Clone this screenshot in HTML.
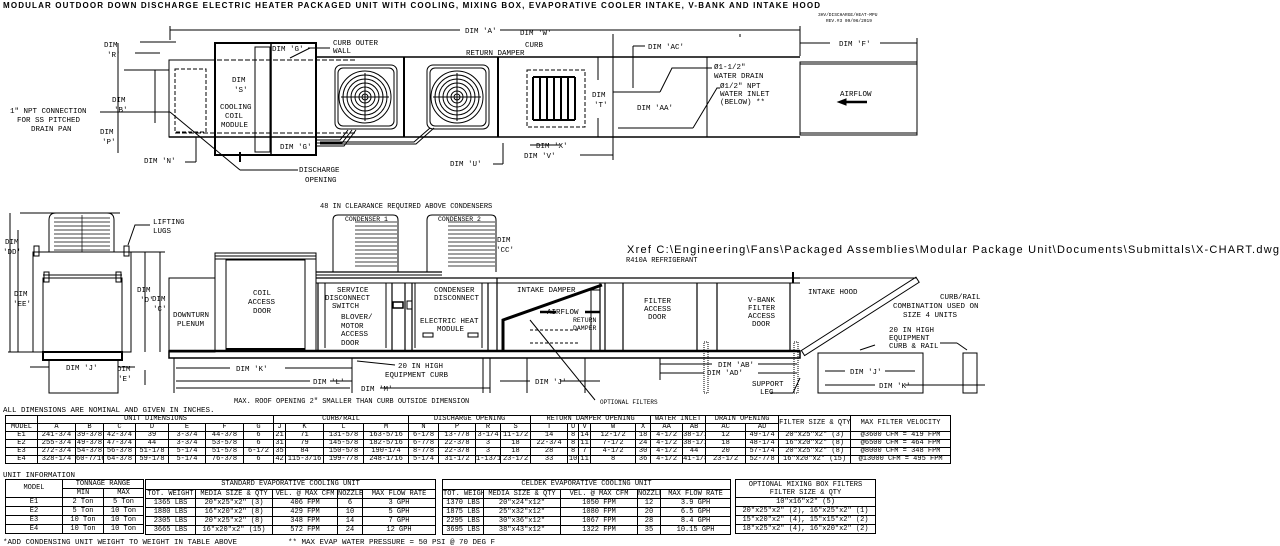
<!DOCTYPE html>
<html><head><meta charset="utf-8"><style>
html,body{margin:0;padding:0;background:#fff;}
body{width:1280px;height:546px;position:relative;overflow:hidden;font-family:"Liberation Mono",monospace;}
svg{position:absolute;left:0;top:0;}
table{position:absolute;border-collapse:collapse;table-layout:fixed;font-family:"Liberation Mono",monospace;font-size:7px;color:#000;}
td{border:1px solid #000;padding:0;text-align:center;white-space:nowrap;overflow:hidden;line-height:7px;}
.t1 td{height:7px;}
.r9 td{height:8px;}
.lbl{position:absolute;font-size:7.5px;white-space:nowrap;line-height:8px;}
</style></head><body>
<svg width="1280" height="546" viewBox="0 0 1280 546" font-family="Liberation Mono, monospace" font-size="7.5" fill="none" stroke="#000">
<text x="3" y="8" fill="#000" stroke="none" font-family="Liberation Sans, sans-serif" font-weight="bold" font-size="8" textLength="817">MODULAR OUTDOOR DOWN DISCHARGE ELECTRIC HEATER PACKAGED UNIT WITH COOLING, MIXING BOX, EVAPORATIVE COOLER INTAKE, V-BANK AND INTAKE HOOD</text>
<text x="818" y="16" fill="#000" stroke="none" font-size="4.5">3HV/DISCHARGE/HEAT-MPU</text>
<text x="826" y="22" fill="#000" stroke="none" font-size="4.5">REV.#3  09/06/2019</text>
<!-- TOP VIEW -->
<g stroke-width="1">
<line x1="170" y1="30" x2="460" y2="30"/><line x1="500" y1="30" x2="800" y2="30"/>
<line x1="170" y1="26" x2="170" y2="40"/><line x1="800" y1="26" x2="800" y2="56"/>
<line x1="317" y1="57" x2="800" y2="57" stroke-width="1.5"/>
<line x1="169" y1="137" x2="800" y2="137" stroke-width="1.5"/>
<rect x="169" y="60" width="46" height="77"/>
<rect x="175" y="69" width="31" height="63" stroke-dasharray="4,2"/>
<line x1="175" y1="60" x2="355" y2="60" stroke-dasharray="5,2"/>
<line x1="175" y1="133" x2="355" y2="133" stroke-dasharray="5,2"/>
<rect x="215" y="43" width="101" height="112" stroke-width="2"/>
<line x1="271" y1="43" x2="271" y2="155" stroke-width="1.5"/>
<rect x="255" y="47" width="15" height="105"/>
<rect x="335" y="65" width="62" height="64" rx="6"/><rect x="338" y="68" width="56" height="58" rx="5"/>
<g transform="translate(365,97)"><circle r="26"/><circle r="22"/><circle r="18"/><circle r="14"/><circle r="10"/><circle r="6"/><circle r="3"/><line x1="0" y1="-24" x2="0" y2="24"/><line x1="-24" y1="0" x2="24" y2="0"/></g>
<rect x="427" y="65" width="62" height="64" rx="6"/><rect x="430" y="68" width="56" height="58" rx="5"/>
<g transform="translate(457,97)"><circle r="26"/><circle r="22"/><circle r="18"/><circle r="14"/><circle r="10"/><circle r="6"/><circle r="3"/><line x1="0" y1="-24" x2="0" y2="24"/><line x1="-24" y1="0" x2="24" y2="0"/></g>
<line x1="404" y1="57" x2="404" y2="137" stroke-width="2"/>
<line x1="498" y1="57" x2="498" y2="137" stroke-width="2"/>
<polyline points="316,140 340,140 348,130"/><polyline points="316,143 342,143 352,130"/><polyline points="316,146 344,146 356,130"/>
<polyline points="320,142 414,142 430,128"/><polyline points="320,144 416,144 434,128"/>
<rect x="527" y="70" width="58" height="57" stroke-dasharray="4,2"/>
<g stroke-width="2"><line x1="533" y1="77" x2="533" y2="120"/><line x1="540" y1="77" x2="540" y2="120"/><line x1="547" y1="77" x2="547" y2="120"/><line x1="554" y1="77" x2="554" y2="120"/><line x1="561" y1="77" x2="561" y2="120"/><line x1="568" y1="77" x2="568" y2="120"/><line x1="575" y1="77" x2="575" y2="120"/><line x1="533" y1="77" x2="575" y2="77"/><line x1="533" y1="120" x2="575" y2="120"/></g>
<line x1="613" y1="57" x2="613" y2="137"/><line x1="707" y1="57" x2="707" y2="137"/>
<line x1="613" y1="34" x2="613" y2="160"/><line x1="740" y1="34" x2="740" y2="37"/>
<rect x="800" y="62" width="117" height="73"/><line x1="800" y1="64" x2="917" y2="64"/><line x1="800" y1="133" x2="917" y2="133"/>
<line x1="800" y1="43" x2="830" y2="43"/><line x1="880" y1="43" x2="917" y2="43"/><line x1="917" y1="38" x2="917" y2="62"/>
<line x1="842" y1="102" x2="867" y2="102" stroke-width="2.5"/><polygon points="838,102 846,99 846,105" fill="#000"/>
<polyline points="660,92 672,68 712,68"/><polyline points="660,92 613,92"/>
<polyline points="693,128 717,88 720,88"/><polyline points="693,128 618,128"/>
<line x1="633" y1="46" x2="645" y2="46"/><line x1="633" y1="46" x2="633" y2="88"/>
<line x1="140" y1="42" x2="176" y2="42"/><line x1="135" y1="53" x2="160" y2="53"/>
<line x1="124" y1="70" x2="169" y2="70"/><line x1="155" y1="70" x2="155" y2="123"/>
<line x1="100" y1="112" x2="170" y2="112"/><line x1="170" y1="112" x2="240" y2="170"/><line x1="240" y1="170" x2="298" y2="170"/>
<line x1="196" y1="137" x2="196" y2="162"/><line x1="185" y1="162" x2="196" y2="162"/>
<line x1="118" y1="43" x2="118" y2="153"/>
<line x1="290" y1="58" x2="310" y2="48"/><line x1="308" y1="48" x2="330" y2="48"/>
<line x1="503" y1="164" x2="503" y2="143"/><line x1="493" y1="164" x2="503" y2="164"/>
<line x1="530" y1="145" x2="560" y2="145"/><line x1="580" y1="155" x2="613" y2="155"/>
<line x1="598" y1="57" x2="598" y2="80"/><line x1="598" y1="118" x2="598" y2="137"/>
<line x1="240" y1="152" x2="240" y2="162" stroke-width="2"/>
</g>
<g fill="#000" stroke="none">
<text x="104" y="47">DIM</text><text x="107" y="57">'R'</text>
<text x="112" y="102">DIM</text><text x="114" y="112">'B'</text>
<text x="100" y="134">DIM</text><text x="102" y="144">'P'</text>
<text x="144" y="163">DIM 'N'</text>
<text x="232" y="82">DIM</text><text x="234" y="92">'S'</text>
<text x="220" y="109">COOLING</text><text x="225" y="118">COIL</text><text x="221" y="127">MODULE</text>
<text x="272" y="51">DIM 'G'</text><text x="280" y="149">DIM 'G'</text>
<text x="333" y="45">CURB OUTER</text><text x="333" y="53">WALL</text>
<text x="299" y="172">DISCHARGE</text><text x="305" y="182">OPENING</text>
<text x="10" y="113">1" NPT CONNECTION</text><text x="17" y="122">FOR SS PITCHED</text><text x="31" y="131">DRAIN PAN</text>
<text x="465" y="33">DIM 'A'</text>
<text x="450" y="166">DIM 'U'</text>
<text x="520" y="35">DIM 'W'</text><text x="525" y="47">CURB</text><text x="466" y="55">RETURN DAMPER</text>
<text x="536" y="148">DIM 'X'</text><text x="524" y="158">DIM 'V'</text>
<text x="592" y="97">DIM</text><text x="594" y="107">'T'</text>
<text x="648" y="49">DIM 'AC'</text><text x="637" y="110">DIM 'AA'</text>
<text x="714" y="69">Ø1-1/2"</text><text x="714" y="78">WATER DRAIN</text>
<text x="720" y="88">Ø1/2" NPT</text><text x="720" y="96">WATER INLET</text><text x="720" y="104">(BELOW) **</text>
<text x="839" y="46">DIM 'F'</text>
<text x="840" y="96">AIRFLOW</text>
</g>
<!-- SIDE / END VIEW -->
<g stroke-width="1">
<path d="M49,252 V220 Q49,213 56,213 H107 Q114,213 114,220 V252"/>
<g stroke-width="0.7"><line x1="54" y1="218" x2="110" y2="218"/><line x1="54" y1="222" x2="110" y2="222"/><line x1="54" y1="226" x2="110" y2="226"/><line x1="54" y1="230" x2="110" y2="230"/><line x1="54" y1="234" x2="110" y2="234"/><line x1="54" y1="238" x2="110" y2="238"/><line x1="54" y1="242" x2="110" y2="242"/><line x1="54" y1="246" x2="110" y2="246"/><line x1="54" y1="250" x2="110" y2="250"/><line x1="82" y1="215" x2="82" y2="252"/></g>
<rect x="33" y="252" width="98" height="100"/>
<rect x="43" y="278" width="79" height="74"/>
<line x1="43" y1="275" x2="122" y2="275"/>
<rect x="34" y="246" width="5" height="10"/><rect x="124" y="246" width="5" height="10"/>
<rect x="44" y="272" width="5" height="10"/><rect x="116" y="272" width="5" height="10"/>
<rect x="43" y="352" width="79" height="8" stroke-width="2"/>
<rect x="49" y="360" width="69" height="33"/>
<line x1="20" y1="213" x2="120" y2="213"/><line x1="8" y1="352" x2="43" y2="352"/>
<line x1="10" y1="213" x2="10" y2="352"/><line x1="18" y1="230" x2="18" y2="352"/>
<line x1="145" y1="252" x2="145" y2="352"/><line x1="160" y1="252" x2="160" y2="352"/>
<line x1="130" y1="252" x2="165" y2="252"/>
<line x1="30" y1="367" x2="49" y2="367"/><line x1="118" y1="367" x2="135" y2="367"/>
<line x1="145" y1="370" x2="145" y2="385"/>
<polyline points="128,245 135,225 150,225"/>
<!-- main side -->
<rect x="169" y="351" width="631" height="7" stroke-width="1.5"/>
<line x1="169" y1="351" x2="800" y2="351" stroke-width="2.5"/>
<rect x="169" y="278" width="46" height="74"/>
<rect x="215" y="253" width="101" height="98"/>
<line x1="215" y1="256" x2="316" y2="256"/><line x1="215" y1="259" x2="316" y2="259"/>
<rect x="226" y="260" width="79" height="90"/><line x1="226" y1="349" x2="305" y2="349" stroke-width="2"/>
<line x1="316" y1="278" x2="800" y2="278" stroke-width="1.2"/><line x1="316" y1="283" x2="800" y2="283"/>
<line x1="316" y1="272" x2="442" y2="272" stroke-width="1.2"/><line x1="316" y1="275" x2="442" y2="275"/>
<path d="M333,272 V220 Q333,215 338,215 H393 Q398,215 398,220 V272"/>
<path d="M427,272 V220 Q427,215 432,215 H491 Q496,215 496,220 V272"/>
<g stroke-width="0.7"><line x1="355" y1="222" x2="397" y2="222"/><line x1="355" y1="226" x2="397" y2="226"/><line x1="355" y1="230" x2="397" y2="230"/><line x1="355" y1="234" x2="397" y2="234"/><line x1="355" y1="238" x2="397" y2="238"/><line x1="355" y1="242" x2="397" y2="242"/><line x1="355" y1="246" x2="397" y2="246"/><line x1="355" y1="250" x2="397" y2="250"/><line x1="355" y1="254" x2="397" y2="254"/><line x1="355" y1="258" x2="397" y2="258"/><line x1="355" y1="262" x2="397" y2="262"/><line x1="355" y1="266" x2="397" y2="266"/>
<line x1="448" y1="222" x2="495" y2="222"/><line x1="448" y1="226" x2="495" y2="226"/><line x1="448" y1="230" x2="495" y2="230"/><line x1="448" y1="234" x2="495" y2="234"/><line x1="448" y1="238" x2="495" y2="238"/><line x1="448" y1="242" x2="495" y2="242"/><line x1="448" y1="246" x2="495" y2="246"/><line x1="448" y1="250" x2="495" y2="250"/><line x1="448" y1="254" x2="495" y2="254"/><line x1="448" y1="258" x2="495" y2="258"/><line x1="448" y1="262" x2="495" y2="262"/><line x1="448" y1="266" x2="495" y2="266"/></g>
<g stroke-width="1.2"><line x1="318" y1="283" x2="318" y2="351"/><line x1="392" y1="283" x2="392" y2="351"/><line x1="405" y1="283" x2="405" y2="351"/><line x1="412" y1="283" x2="412" y2="351"/><line x1="488" y1="283" x2="488" y2="351"/><line x1="497" y1="278" x2="497" y2="351"/><line x1="600" y1="283" x2="600" y2="351"/><line x1="605" y1="283" x2="605" y2="351"/><line x1="623" y1="283" x2="623" y2="351"/><line x1="697" y1="283" x2="697" y2="351"/><line x1="717" y1="283" x2="717" y2="351"/><line x1="790" y1="283" x2="790" y2="351"/></g>
<line x1="325" y1="283" x2="325" y2="348"/><line x1="386" y1="283" x2="386" y2="348"/>
<line x1="415" y1="283" x2="415" y2="348"/><line x1="482" y1="283" x2="482" y2="348"/>
<rect x="393" y="302" width="10" height="6" stroke-width="1.5"/><rect x="407" y="301" width="5" height="8"/>
<rect x="423" y="333" width="10" height="4"/><rect x="468" y="333" width="10" height="4"/>
<polyline points="503,351 503,320 602,285" stroke-width="3"/>
<line x1="540" y1="312" x2="556" y2="312" stroke-width="2.5"/><line x1="585" y1="312" x2="600" y2="312" stroke-width="2.5"/>
<rect x="591" y="290" width="9" height="61"/>
<line x1="530" y1="330" x2="580" y2="330" stroke-dasharray="3,2"/><line x1="530" y1="343" x2="580" y2="343" stroke-dasharray="3,2"/>
<line x1="530" y1="320" x2="595" y2="400"/>
<line x1="793" y1="272" x2="793" y2="283" stroke-width="2"/>
<g transform="translate(803,353) rotate(-32.6)"><rect x="0" y="-3" width="136" height="6"/></g>
<line x1="700" y1="278" x2="917" y2="278"/>
<rect x="704" y="342" width="4" height="51" stroke-dasharray="1,1"/><rect x="794" y="342" width="4" height="51" stroke-dasharray="1,1"/>
<rect x="818" y="353" width="105" height="40"/><rect x="963" y="353" width="14" height="40"/>
<line x1="825" y1="371" x2="845" y2="371"/><line x1="885" y1="371" x2="915" y2="371"/>
<line x1="825" y1="385" x2="875" y2="385"/><line x1="905" y1="385" x2="985" y2="385"/>
<line x1="660" y1="364" x2="712" y2="364"/><line x1="758" y1="364" x2="797" y2="364"/>
<line x1="660" y1="373" x2="704" y2="373"/><line x1="758" y1="373" x2="797" y2="373"/>
<line x1="660" y1="358" x2="660" y2="380"/>
<polyline points="770,393 793,393 800,378"/>
<line x1="940" y1="343" x2="957" y2="343"/><polyline points="957,343 967,350"/>
<line x1="860" y1="350" x2="875" y2="345"/>
<line x1="174" y1="358" x2="174" y2="393"/><line x1="483" y1="358" x2="483" y2="393"/><line x1="490" y1="358" x2="490" y2="393"/>
<line x1="527" y1="358" x2="527" y2="393"/><line x1="585" y1="358" x2="585" y2="393"/>
<line x1="176" y1="368" x2="230" y2="368"/><line x1="285" y1="368" x2="352" y2="368"/>
<line x1="176" y1="381" x2="310" y2="381"/><line x1="330" y1="381" x2="352" y2="381"/>
<line x1="176" y1="388" x2="350" y2="388"/><line x1="380" y1="388" x2="490" y2="388"/>
<line x1="500" y1="381" x2="530" y2="381"/><line x1="560" y1="381" x2="600" y2="381"/>
<line x1="352" y1="358" x2="352" y2="393"/><line x1="357" y1="361" x2="395" y2="365"/>
</g>
<g fill="#000" stroke="none">
<text x="5" y="244">DIM</text><text x="3" y="254">'DD'</text>
<text x="14" y="296">DIM</text><text x="13" y="306">'EE'</text>
<text x="137" y="292">DIM</text><text x="140" y="302">'D'</text>
<text x="152" y="301">DIM</text><text x="153" y="311">'C'</text>
<text x="153" y="224">LIFTING</text><text x="153" y="233">LUGS</text>
<text x="66" y="370">DIM 'J'</text>
<text x="117" y="371">DIM</text><text x="118" y="381">'E'</text>
<text x="173" y="317">DOWNTURN</text><text x="177" y="326">PLENUM</text>
<text x="253" y="295">COIL</text><text x="248" y="304">ACCESS</text><text x="253" y="313">DOOR</text>
<text x="320" y="208" font-size="7">48 IN CLEARANCE REQUIRED ABOVE CONDENSERS</text>
<text x="345" y="221" font-size="6.5">CONDENSER 1</text><text x="438" y="221" font-size="6.5">CONDENSER 2</text>
<text x="497" y="242">DIM</text><text x="496" y="252">'CC'</text>
<text x="337" y="292">SERVICE</text><text x="325" y="300">DISCONNECT</text><text x="332" y="308">SWITCH</text>
<text x="341" y="319">BLOVER/</text><text x="341" y="328">MOTOR</text><text x="341" y="336">ACCESS</text><text x="341" y="345">DOOR</text>
<text x="434" y="292">CONDENSER</text><text x="434" y="300">DISCONNECT</text>
<text x="420" y="323">ELECTRIC HEAT</text><text x="437" y="331">MODULE</text>
<text x="517" y="292">INTAKE DAMPER</text>
<text x="547" y="314">AIRFLOW</text><text x="573" y="322" font-size="6.5">RETURN</text><text x="573" y="330" font-size="6.5">DAMPER</text>
<text x="627" y="253" font-family="Liberation Sans, sans-serif" font-size="11" textLength="652">Xref C:\Engineering\Fans\Packaged Assemblies\Modular Package Unit\Documents\Submittals\X-CHART.dwg</text>
<text x="626" y="262" font-size="7">R410A REFRIGERANT</text>
<text x="644" y="303">FILTER</text><text x="644" y="311">ACCESS</text><text x="648" y="319">DOOR</text>
<text x="748" y="302">V-BANK</text><text x="748" y="310">FILTER</text><text x="748" y="318">ACCESS</text><text x="752" y="326">DOOR</text>
<text x="808" y="294">INTAKE HOOD</text>
<text x="940" y="299">CURB/RAIL</text><text x="893" y="308">COMBINATION USED ON</text><text x="903" y="317">SIZE 4 UNITS</text>
<text x="889" y="332">20 IN HIGH</text><text x="889" y="340">EQUIPMENT</text><text x="889" y="348">CURB &amp; RAIL</text>
<text x="850" y="374">DIM 'J'</text><text x="879" y="388">DIM 'K'</text>
<text x="718" y="367">DIM 'AB'</text><text x="707" y="375">DIM 'AD'</text>
<text x="752" y="386">SUPPORT</text><text x="760" y="394">LEG</text>
<text x="236" y="371">DIM 'K'</text><text x="313" y="384">DIM 'L'</text><text x="361" y="391">DIM 'M'</text>
<text x="398" y="368">20 IN HIGH</text><text x="385" y="377">EQUIPMENT CURB</text>
<text x="535" y="384">DIM 'J'</text>
<text x="234" y="403" font-size="7">MAX. ROOF OPENING 2" SMALLER THAN CURB OUTSIDE DIMENSION</text>
<text x="600" y="404" font-size="6">OPTIONAL FILTERS</text>
<text x="3" y="412" font-size="7.5">ALL DIMENSIONS ARE NOMINAL AND GIVEN IN INCHES.</text>
<text x="3" y="477" font-size="7.5">UNIT INFORMATION</text>
<text x="3" y="544" font-size="7.5">*ADD CONDENSING UNIT WEIGHT TO WEIGHT IN TABLE ABOVE</text>
<text x="288" y="544" font-size="7.5">** MAX EVAP WATER PRESSURE = 50 PSI @ 70 DEG F</text>
</g>
</svg>

<table class="t1" style="left:5px;top:415px;width:945px;">
<colgroup><col style="width:32px"><col style="width:38px"><col style="width:28px"><col style="width:32px"><col style="width:33px"><col style="width:37px"><col style="width:38px"><col style="width:30px"><col style="width:12px"><col style="width:38px"><col style="width:40px"><col style="width:45px"><col style="width:30px"><col style="width:37px"><col style="width:25px"><col style="width:30px"><col style="width:37px"><col style="width:11px"><col style="width:12px"><col style="width:45px"><col style="width:15px"><col style="width:32px"><col style="width:23px"><col style="width:40px"><col style="width:33px"><col style="width:72px"><col style="width:100px"></colgroup>
<tr><td></td><td colspan="7">UNIT DIMENSIONS</td><td colspan="4">CURB/RAIL</td><td colspan="4">DISCHARGE OPENING</td><td colspan="5">RETURN DAMPER OPENING</td><td colspan="2">WATER INLET</td><td colspan="2">DRAIN OPENING</td><td rowspan="2">FILTER SIZE &amp; QTY</td><td rowspan="2">MAX FILTER VELOCITY</td></tr>
<tr><td>MODEL</td><td>A</td><td>B</td><td>C</td><td>D</td><td>E</td><td>F</td><td>G</td><td>J</td><td>K</td><td>L</td><td>M</td><td>N</td><td>P</td><td>R</td><td>S</td><td>T</td><td>U</td><td>V</td><td>W</td><td>X</td><td>AA</td><td>AB</td><td>AC</td><td>AD</td></tr>
<tr><td>E1</td><td>241-3/4</td><td>39-3/8</td><td>42-3/4</td><td>39</td><td>3-3/4</td><td>44-3/8</td><td>6</td><td>21</td><td>71</td><td>131-5/8</td><td>163-5/16</td><td>6-1/8</td><td>13-7/8</td><td>3-1/4</td><td>11-1/2</td><td>14</td><td>8</td><td>14</td><td>12-1/2</td><td>18</td><td>4-1/2</td><td>38-1/2</td><td>12</td><td>49-1/4</td><td>20"x25"x2" (3)</td><td>@3600 CFM = 419 FPM</td></tr>
<tr><td>E2</td><td>255-3/4</td><td>49-3/8</td><td>47-3/4</td><td>44</td><td>3-3/4</td><td>53-5/8</td><td>6</td><td>31</td><td>79</td><td>145-5/8</td><td>182-5/16</td><td>6-7/8</td><td>22-3/8</td><td>3</td><td>18</td><td>22-3/4</td><td>8</td><td>11</td><td>7-1/2</td><td>24</td><td>4-1/2</td><td>38-1/2</td><td>18</td><td>48-1/4</td><td>16"x20"x2" (8)</td><td>@6500 CFM = 464 FPM</td></tr>
<tr><td>E3</td><td>272-3/4</td><td>54-3/8</td><td>56-3/8</td><td>51-1/8</td><td>5-1/4</td><td>51-5/8</td><td>6-1/2</td><td>35</td><td>84</td><td>150-5/8</td><td>190-1/4</td><td>8-7/8</td><td>22-3/8</td><td>3</td><td>18</td><td>28</td><td>8</td><td>7</td><td>4-1/2</td><td>30</td><td>4-1/2</td><td>44</td><td>20</td><td>57-1/4</td><td>20"x25"x2" (8)</td><td>@8000 CFM = 348 FPM</td></tr>
<tr><td>E4</td><td>328-1/4</td><td>60-7/16</td><td>64-3/8</td><td>59-1/8</td><td>5-1/4</td><td>76-3/8</td><td>6</td><td>42</td><td>115-3/16</td><td>199-7/8</td><td>248-1/16</td><td>5-1/4</td><td>31-1/2</td><td>1-13/16</td><td>23-1/2</td><td>33</td><td>10</td><td>11</td><td>8</td><td>36</td><td>4-1/2</td><td>41-1/8</td><td>23-1/2</td><td>52-7/8</td><td>16"x20"x2" (15)</td><td>@13000 CFM = 495 FPM</td></tr>
</table>

<table class="r9" style="left:5px;top:479px;width:138px;">
<colgroup><col style="width:57px"><col style="width:41px"><col style="width:40px"></colgroup>
<tr><td rowspan="2" style="height:17px">MODEL</td><td colspan="2">TONNAGE RANGE</td></tr>
<tr><td>MIN</td><td>MAX</td></tr>
<tr><td>E1</td><td>2 Ton</td><td>5 Ton</td></tr>
<tr><td>E2</td><td>5 Ton</td><td>10 Ton</td></tr>
<tr><td>E3</td><td>10 Ton</td><td>10 Ton</td></tr>
<tr><td>E4</td><td>10 Ton</td><td>10 Ton</td></tr>
</table>

<table class="r9" style="left:145px;top:479px;width:290px;">
<colgroup><col style="width:50px"><col style="width:77px"><col style="width:65px"><col style="width:25px"><col style="width:73px"></colgroup>
<tr><td colspan="5" style="height:9px">STANDARD EVAPORATIVE COOLING UNIT</td></tr>
<tr><td>TOT. WEIGHT</td><td>MEDIA SIZE &amp; QTY</td><td>VEL. @ MAX CFM</td><td>NOZZLES</td><td>MAX FLOW RATE</td></tr>
<tr><td>1365 LBS</td><td>20"x25"x2" (3)</td><td>406 FPM</td><td>6</td><td>3 GPH</td></tr>
<tr><td>1880 LBS</td><td>16"x20"x2" (8)</td><td>429 FPM</td><td>10</td><td>5 GPH</td></tr>
<tr><td>2305 LBS</td><td>20"x25"x2" (8)</td><td>348 FPM</td><td>14</td><td>7 GPH</td></tr>
<tr><td>3665 LBS</td><td>16"x20"x2" (15)</td><td>572 FPM</td><td>24</td><td>12 GPH</td></tr>
</table>

<table class="r9" style="left:442px;top:479px;width:288px;">
<colgroup><col style="width:41px"><col style="width:77px"><col style="width:77px"><col style="width:23px"><col style="width:70px"></colgroup>
<tr><td colspan="5" style="height:9px">CELDEK EVAPORATIVE COOLING UNIT</td></tr>
<tr><td>TOT. WEIGHT</td><td>MEDIA SIZE &amp; QTY</td><td>VEL. @ MAX CFM</td><td>NOZZLES</td><td>MAX FLOW RATE</td></tr>
<tr><td>1370 LBS</td><td>20"x24"x12"</td><td>1050 FPM</td><td>12</td><td>3.9 GPH</td></tr>
<tr><td>1875 LBS</td><td>25"x32"x12"</td><td>1080 FPM</td><td>20</td><td>6.5 GPH</td></tr>
<tr><td>2295 LBS</td><td>30"x36"x12"</td><td>1067 FPM</td><td>28</td><td>8.4 GPH</td></tr>
<tr><td>3695 LBS</td><td>38"x43"x12"</td><td>1322 FPM</td><td>35</td><td>10.15 GPH</td></tr>
</table>

<table class="r9" style="left:735px;top:479px;width:140px;">
<colgroup><col style="width:140px"></colgroup>
<tr><td style="height:17px;line-height:8px">OPTIONAL MIXING BOX FILTERS<br>FILTER SIZE &amp; QTY</td></tr>
<tr><td>10"x16"x2" (5)</td></tr>
<tr><td>20"x25"x2" (2), 16"x25"x2" (1)</td></tr>
<tr><td>15"x20"x2" (4), 15"x15"x2" (2)</td></tr>
<tr><td>18"x25"x2" (4), 16"x20"x2" (2)</td></tr>
</table>
</body></html>
